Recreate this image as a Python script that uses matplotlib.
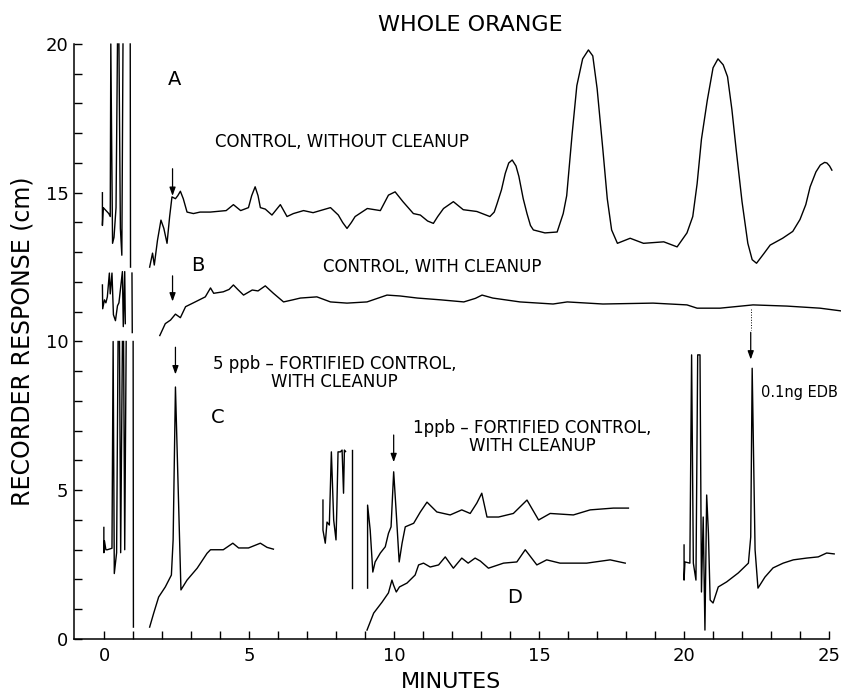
import numpy as np
import matplotlib.pyplot as plt
from matplotlib.ticker import FixedLocator

nan = np.nan

# ---- trace A: control, without cleanup ----
a_inj_x = [-0.07, -0.07, -0.04, 0.15, 0.20, 0.22, 0.28, 0.33, 0.40, 0.45, nan, 0.50, 0.55, 0.60, 0.64, nan, 0.89, 0.90]
a_inj_y = [15.0, 13.9, 14.5, 14.3, 14.2, 20.0, 13.3, 13.5, 14.5, 20.0, nan, 20.0, 13.8, 12.9, 20.0, nan, 20.0, 12.5]
a_x = [1.56, 1.66, 1.72, 1.83, 1.95, 2.05, 2.16, 2.25, 2.33, 2.45, 2.53, 2.62, 2.72, 2.85, 3.07, 3.3, 3.65,
       4.2, 4.45, 4.7, 4.97, 5.08, 5.2, 5.3, 5.38, 5.55, 5.78, 6.07, 6.3, 6.52, 6.87, 7.2, 7.8, 8.07, 8.22,
       8.37, 8.52, 8.65, 9.07, 9.52, 9.8, 10.03, 10.3, 10.66, 10.9, 11.15, 11.35, 11.5, 11.7, 12.04, 12.38,
       12.85, 13.3, 13.45, 13.55, 13.7, 13.83, 13.95, 14.07, 14.2, 14.3, 14.45, 14.58, 14.7, 14.8, 15.2,
       15.62, 15.83, 15.95, 16.14, 16.3, 16.5, 16.7, 16.85, 17.0, 17.2, 17.35, 17.5, 17.7, 18.14, 18.6,
       19.3, 19.76, 20.1, 20.3, 20.45, 20.6, 20.8, 21.0, 21.17, 21.35, 21.5, 21.65, 21.8, 22.0, 22.2,
       22.35, 22.5, 22.75, 22.97, 23.4, 23.75, 24.0, 24.2, 24.35, 24.55, 24.7, 24.85, 24.93, 25.02, 25.1]
a_y = [12.5, 12.97, 12.57, 13.4, 14.08, 13.8, 13.3, 14.2, 14.86, 14.8, 14.9, 15.05, 14.8, 14.35, 14.3, 14.35, 14.35,
       14.4, 14.6, 14.4, 14.5, 14.9, 15.2, 14.9, 14.5, 14.45, 14.25, 14.6, 14.2, 14.3, 14.4, 14.33, 14.5, 14.25, 14.0,
       13.8, 14.0, 14.2, 14.47, 14.4, 14.92, 15.03, 14.7, 14.3, 14.25, 14.05, 13.97, 14.2, 14.47, 14.7, 14.43,
       14.37, 14.2, 14.35, 14.64, 15.1, 15.65, 16.0, 16.1, 15.9, 15.55, 14.8, 14.3, 13.9, 13.75, 13.65,
       13.68, 14.3, 14.9, 17.0, 18.6, 19.5, 19.8, 19.6, 18.5, 16.43, 14.8, 13.75, 13.3, 13.47, 13.3,
       13.35, 13.18, 13.65, 14.2, 15.3, 16.8, 18.1, 19.2, 19.5, 19.3, 18.9, 17.8, 16.43, 14.7, 13.3,
       12.75, 12.63, 12.95, 13.24, 13.47, 13.7, 14.1, 14.6, 15.2, 15.7, 15.93, 16.02, 16.0, 15.9, 15.76]

# ---- trace B: control, with cleanup ----
b_inj_x = [-0.07, -0.06, 0.0, 0.05, 0.10, 0.17, 0.20, 0.26, 0.31, 0.38, 0.45, 0.50, 0.62, 0.65, 0.70, 0.72, nan, 0.95, 0.96]
b_inj_y = [11.9, 11.1, 11.4, 11.3, 11.5, 12.3, 11.6, 12.3, 10.9, 10.7, 11.2, 11.3, 12.35, 10.5, 12.35, 10.6, nan, 12.3, 10.3]
b_x = [1.91, 2.1, 2.28, 2.45, 2.62, 2.8, 3.07, 3.48, 3.66, 3.77, 4.1, 4.3, 4.45, 4.6, 4.8, 5.1, 5.3, 5.55, 5.83, 6.18,
       6.5, 6.76, 7.33, 7.8, 8.37, 9.06, 9.75, 10.2, 10.8, 11.6, 12.4, 12.8, 13.03, 13.4, 14.34, 15.48, 15.97, 17.2,
       18.93, 20.1, 20.45, 21.24, 22.38, 23.55, 24.69, 25.4]
b_y = [10.2, 10.6, 10.72, 10.92, 10.8, 11.17, 11.3, 11.5, 11.8, 11.62, 11.67, 11.75, 11.9, 11.75, 11.56, 11.73, 11.7, 11.87,
       11.62, 11.33, 11.4, 11.46, 11.5, 11.33, 11.29, 11.33, 11.56, 11.53, 11.46, 11.4, 11.33, 11.45, 11.56, 11.46,
       11.33, 11.26, 11.33, 11.26, 11.29, 11.23, 11.12, 11.12, 11.23, 11.19, 11.12, 11.03]

# ---- trace C: 5 ppb fortified ----
c_inj_x = [-0.02, -0.02, 0.0, 0.05, 0.10, 0.26, 0.30, 0.34, 0.42, 0.47, nan, 0.52, 0.56, 0.62, nan, 0.66, 0.70, 0.75, nan, 0.99, 1.0]
c_inj_y = [3.75, 2.9, 3.3, 3.0, 3.0, 3.05, 10.0, 2.2, 2.9, 10.0, nan, 10.0, 2.9, 10.0, nan, 10.0, 3.0, 10.0, nan, 10.0, 0.4]
c_x = [1.56, 1.7, 1.87, 2.1, 2.31, 2.37, 2.45, 2.53, 2.64, 2.85, 3.2, 3.54, 3.66, 4.1, 4.43, 4.63, 4.97, 5.38, 5.61, 5.83]
c_y = [0.4, 0.87, 1.41, 1.75, 2.15, 3.33, 8.47, 5.58, 1.65, 1.98, 2.38, 2.88, 3.0, 3.0, 3.22, 3.06, 3.06, 3.22, 3.08, 3.02]

# ---- 1 ppb fortified (upper) and D (lower) ----
p1_inj_x = [7.54, 7.54, 7.62, 7.68, 7.76, 7.83, 7.91, 7.99, 8.02, 8.06, 8.14, 8.2, 8.25, 8.28, 8.32]
p1_inj_y = [4.67, 3.66, 3.22, 3.93, 3.83, 6.29, 4.0, 3.33, 4.44, 6.29, 6.29, 6.35, 4.9, 6.35, 6.3]
p1_cut_x = [8.54, 8.54]
p1_cut_y = [6.35, 1.71]
p1_x = [9.08, 9.08, 9.17, 9.26, 9.34, 9.52, 9.69, 9.8, 9.89, 9.98, 10.07, 10.17, 10.27, 10.38, 10.67, 10.9,
        11.13, 11.47, 11.93, 12.33, 12.62, 12.85, 13.02, 13.2, 13.6, 14.11, 14.58, 14.98, 15.38, 16.18,
        16.76, 17.56, 18.08]
p1_y = [1.71, 4.5, 3.66, 2.25, 2.59, 2.89, 3.1, 3.55, 3.77, 5.62, 4.22, 2.59, 3.22, 3.77, 3.89, 4.27,
        4.6, 4.27, 4.17, 4.34, 4.22, 4.57, 4.9, 4.1, 4.1, 4.22, 4.67, 4.0, 4.22, 4.17,
        4.34, 4.4, 4.4]
d_x = [9.06, 9.29, 9.58, 9.8, 9.92, 9.98, 10.07, 10.18, 10.44, 10.72, 10.84, 11.01, 11.24, 11.53, 11.76,
       12.04, 12.33, 12.55, 12.79, 12.97, 13.25, 13.77, 14.23, 14.52, 14.92, 15.26, 15.72, 16.64, 17.45, 17.97]
d_y = [0.3, 0.87, 1.24, 1.55, 1.98, 1.8, 1.58, 1.75, 1.88, 2.15, 2.49, 2.55, 2.42, 2.49, 2.76,
       2.38, 2.72, 2.55, 2.72, 2.62, 2.38, 2.55, 2.59, 3.0, 2.49, 2.66, 2.55, 2.55, 2.66, 2.55]

# ---- 0.1 ng EDB standard ----
e_x = [20.0, 20.0, 20.03, 20.2, 20.26, 20.32, 20.41, 20.47, 20.55, 20.6, 20.66, 20.72, 20.78, 20.84,
       20.9, 21.0, 21.18, 21.47, 21.87, 22.22, 22.3, 22.35, 22.45, 22.55, 22.79, 23.07, 23.42, 23.77,
       24.23, 24.63, 24.92, 25.18]
e_y = [3.16, 1.98, 2.59, 2.55, 9.55, 2.55, 1.98, 9.55, 9.55, 1.58, 4.1, 0.3, 4.84, 3.56,
       1.31, 1.21, 1.75, 1.92, 2.22, 2.55, 3.43, 9.1, 3.0, 1.71, 2.08, 2.39, 2.55, 2.66,
       2.72, 2.76, 2.89, 2.86]

fig = plt.figure(figsize=(8.41, 6.96), dpi=100)
ax = fig.add_axes([0.088, 0.0819, 0.8977, 0.8549])
lw = 1.0
for xs, ys in [(a_inj_x, a_inj_y), (a_x, a_y), (b_inj_x, b_inj_y), (b_x, b_y),
               (c_inj_x, c_inj_y), (c_x, c_y), (p1_inj_x, p1_inj_y), (p1_cut_x, p1_cut_y),
               (p1_x, p1_y), (d_x, d_y), (e_x, e_y)]:
    ax.plot(xs, ys, color='black', lw=lw, clip_on=False, solid_joinstyle='round')

# arrows marking the EDB peak
arrows = [(2.35, 15.9, 14.8), (2.35, 12.3, 11.25), (2.45, 9.9, 8.8), (9.98, 6.95, 5.85), (22.3, 10.4, 9.3)]
for ax_x, y0, y1 in arrows:
    ax.annotate('', xy=(ax_x, y1), xytext=(ax_x, y0),
                arrowprops=dict(arrowstyle='-|>,head_length=0.5,head_width=0.18', color='black', lw=0.9))
ax.plot([22.3, 22.3], [11.1, 10.4], color='black', lw=0.7, ls=':')

txt = dict(color='black', ha='center', va='center')
ax.text(2.41, 18.8, 'A', fontsize=14, **txt)
ax.text(3.23, 12.57, 'B', fontsize=14, **txt)
ax.text(3.9, 7.46, 'C', fontsize=14, **txt)
ax.text(14.14, 1.41, 'D', fontsize=14, **txt)
ax.text(8.2, 16.7, 'CONTROL, WITHOUT CLEANUP', fontsize=12, **txt)
ax.text(11.3, 12.5, 'CONTROL, WITH CLEANUP', fontsize=12, **txt)
ax.text(7.95, 8.95, '5 ppb – FORTIFIED CONTROL,\nWITH CLEANUP', fontsize=12, linespacing=1.0, **txt)
ax.text(14.75, 6.8, '1ppb – FORTIFIED CONTROL,\nWITH CLEANUP', fontsize=12, linespacing=1.0, **txt)
ax.text(23.97, 8.3, '0.1ng EDB', fontsize=10.5, **txt)

fig.text(470 / 841, 1 - 25 / 696, 'WHOLE ORANGE', fontsize=16, ha='center', va='center')

ax.set_xlim(-1.05, 25.0)
ax.set_ylim(0, 20)
ax.spines['top'].set_visible(False)
ax.spines['right'].set_visible(False)
for s in ['left', 'bottom']:
    ax.spines[s].set_linewidth(1.1)

ax.xaxis.set_major_locator(FixedLocator([0, 5, 10, 15, 20, 25]))
ax.xaxis.set_minor_locator(FixedLocator(list(range(0, 26))))
ax.yaxis.set_major_locator(FixedLocator([0, 5, 10, 15, 20]))
ax.yaxis.set_minor_locator(FixedLocator(list(range(0, 21))))
ax.tick_params(which='both', direction='in', length=6, width=1.0)
ax.tick_params(axis='x', labelsize=13, pad=6)
ax.tick_params(axis='y', labelsize=13, pad=4)

ax.set_xlabel('MINUTES', fontsize=16, labelpad=5)
ax.set_ylabel('RECORDER RESPONSE (cm)', fontsize=17, labelpad=8)

fig.savefig('out.png', dpi=100)
